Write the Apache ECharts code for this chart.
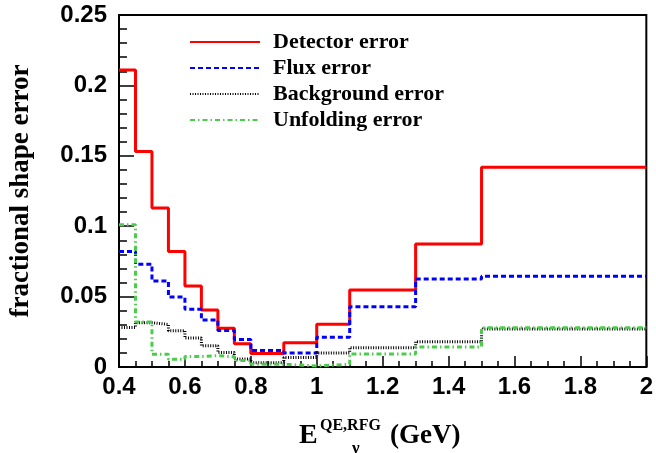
<!DOCTYPE html>
<html>
<head>
<meta charset="utf-8">
<script src="https://cdn.jsdelivr.net/npm/echarts@6/dist/echarts.min.js"></script>
<style>
html,body{margin:0;padding:0;background:#fff;}
#chart{width:656px;height:453px;}
</style>
</head>
<body>
<div id="chart"></div>
<script>
// Bin edges (GeV)
const binEdges = [0.4, 0.45, 0.5, 0.55, 0.6, 0.65, 0.7, 0.75, 0.8, 0.9, 1.0, 1.1, 1.3, 1.5, 2.0];
// Fractional shape errors per bin
const detectorError   = [0.211, 0.153, 0.113, 0.082, 0.0575, 0.0405, 0.0275, 0.0165, 0.0095, 0.0173, 0.0303, 0.0547, 0.0874, 0.1418];
const fluxError       = [0.082, 0.073, 0.061, 0.0497, 0.041, 0.0334, 0.026, 0.0195, 0.0117, 0.0100, 0.0212, 0.0428, 0.0625, 0.0644];
const backgroundError = [0.0280, 0.0315, 0.0302, 0.0258, 0.0206, 0.0151, 0.0103, 0.0057, 0.0030, 0.0067, 0.0100, 0.0137, 0.0180, 0.0270];
const unfoldingError  = [0.101, 0.032, 0.0090, 0.0055, 0.0075, 0.0080, 0.0073, 0.0046, 0.0020, 0.0007, 0.0020, 0.0092, 0.0142, 0.0279];
const seriesNames = ['Detector error', 'Flux error', 'Background error', 'Unfolding error'];
const xTicks = [0.4, 0.6, 0.8, 1, 1.2, 1.4, 1.6, 1.8, 2];
const yTicks = [0, 0.05, 0.1, 0.15, 0.2, 0.25];

function stepData(vals) {
  const d = vals.map((v, i) => [binEdges[i], v]);
  d.push([binEdges[binEdges.length - 1], vals[vals.length - 1]]);
  return d;
}

const serif = '"Liberation Serif", "DejaVu Serif", serif';
const sans = '"Liberation Sans", Arial, sans-serif';

const chart = echarts.init(document.getElementById('chart'));
const option = {
  animation: false,
  backgroundColor: '#fff',
  grid: { left: 115, right: 6, top: 15, bottom: 86, show: true, borderColor: '#000', borderWidth: 2, backgroundColor: 'transparent' },
  legend: {
    orient: 'vertical',
    left: 184,
    top: 26,
    itemWidth: 70,
    itemHeight: 14,
    itemGap: 4,
    itemStyle: { opacity: 0 },
    data: seriesNames,
    textStyle: { fontFamily: serif, fontWeight: 'bold', fontSize: 22, color: '#000', padding: [0, 0, 0, 8] }
  },
  xAxis: {
    type: 'value',
    min: 0.4, max: 2, interval: 0.2,
    axisLine: { show: true, lineStyle: { color: '#000', width: 2 } },
    axisTick: { show: true, inside: true, length: 11, lineStyle: { color: '#000', width: 1.5 } },
    minorTick: { show: true, splitNumber: 4, length: 6, lineStyle: { color: '#000', width: 1.5 } },
    splitLine: { show: false },
    axisLabel: {
      margin: 8, color: '#000', fontFamily: sans, fontWeight: 'bold', fontSize: 24,
      formatter: v => { const t = xTicks.find(x => Math.abs(x - v) < 1e-6); return t === undefined ? '' : String(t); }
    }
  },
  yAxis: {
    type: 'value',
    min: 0, max: 0.25, interval: 0.05,
    axisLine: { show: true, lineStyle: { color: '#000', width: 2 } },
    axisTick: { show: true, inside: true, length: 15, lineStyle: { color: '#000', width: 1.5 } },
    minorTick: { show: true, splitNumber: 5, length: 8, lineStyle: { color: '#000', width: 1.5 } },
    splitLine: { show: false },
    axisLabel: {
      margin: 12, color: '#000', fontFamily: sans, fontWeight: 'bold', fontSize: 24,
      formatter: v => { const t = yTicks.find(y => Math.abs(y - v) < 1e-6); return t === undefined ? '' : String(t); }
    },
    name: 'fractional shape error',
    nameLocation: 'middle',
    nameGap: 84,
    nameTextStyle: { fontFamily: serif, fontWeight: 'bold', fontSize: 27, color: '#000' }
  },
  series: [
    { name: seriesNames[0], type: 'line', step: 'end', symbol: 'none', data: stepData(detectorError),
      lineStyle: { color: '#ff0000', width: 3, type: 'solid' }, itemStyle: { color: '#ff0000' } },
    { name: seriesNames[1], type: 'line', step: 'end', symbol: 'none', data: stepData(fluxError),
      lineStyle: { color: '#0000ff', width: 3, type: [5, 3] }, itemStyle: { color: '#0000ff' } },
    { name: seriesNames[2], type: 'line', step: 'end', symbol: 'none', data: stepData(backgroundError),
      lineStyle: { color: '#000000', width: 3, type: [1, 1.5] }, itemStyle: { color: '#000000' } },
    { name: seriesNames[3], type: 'line', step: 'end', symbol: 'none', data: stepData(unfoldingError),
      lineStyle: { color: '#4ccc4c', width: 3, type: [5, 3, 1.5, 3] }, itemStyle: { color: '#4ccc4c' } }
  ],
  graphic: [
    { type: 'text', left: 299, top: 422, style: { text: 'E', font: 'bold 28px ' + serif, fill: '#000' } },
    { type: 'text', left: 320, top: 418, style: { text: 'QE,RFG', font: 'bold 16px ' + serif, fill: '#000' } },
    { type: 'text', left: 352, top: 440, style: { text: 'ν', font: 'bold 17px ' + serif, fill: '#000' } },
    { type: 'text', left: 390, top: 423, style: { text: '(GeV)', font: 'bold 27px ' + serif, fill: '#000' } }
  ]
};
chart.setOption(option);
</script>
</body>
</html>
